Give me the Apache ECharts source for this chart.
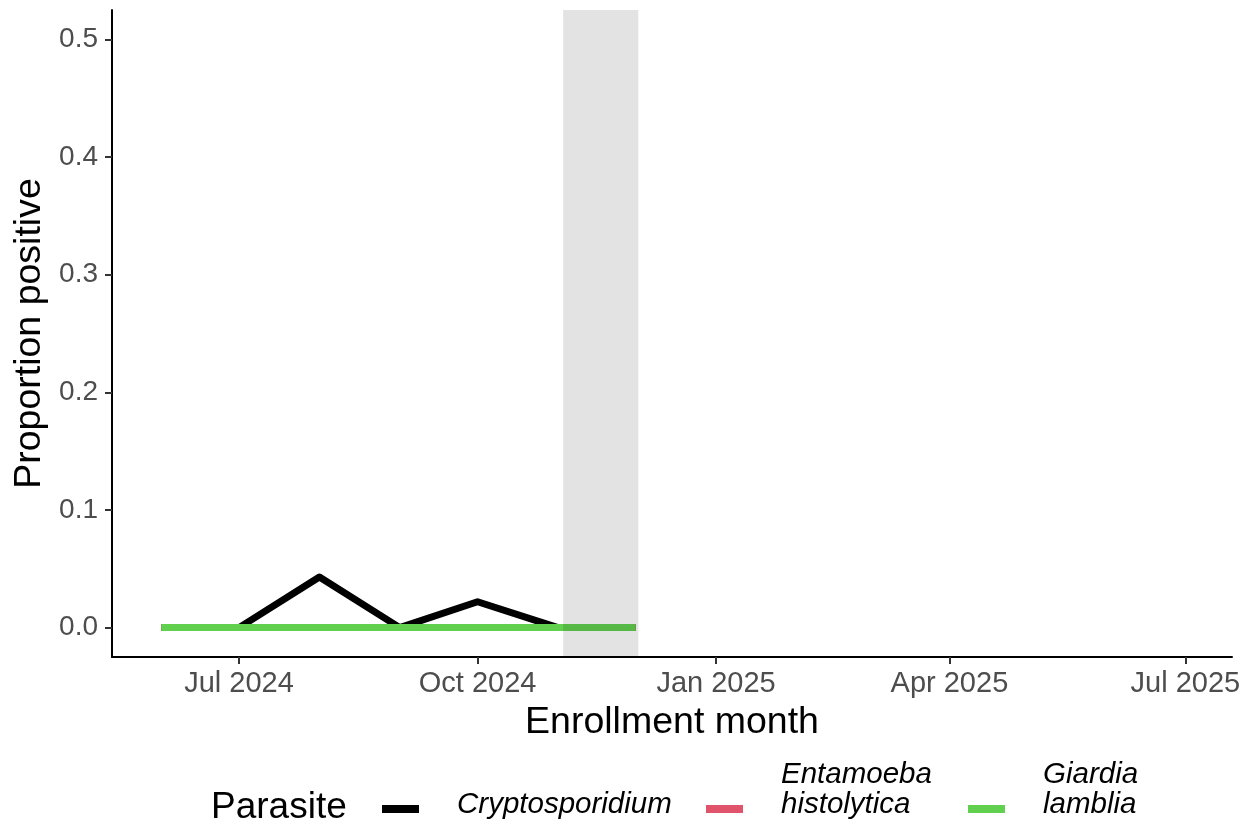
<!DOCTYPE html>
<html>
<head>
<meta charset="utf-8">
<script src="https://cdn.jsdelivr.net/npm/echarts@6/dist/echarts.min.js"></script>
<style>
html,body{margin:0;padding:0;background:#fff;}
#chart{width:1252px;height:827px;}
</style>
</head>
<body>
<div id="chart"></div>
<script>
// ---- data ----
const months = ['2024-06-01','2024-07-01','2024-08-01','2024-09-01','2024-10-01','2024-11-01','2024-12-01'];
const cryptosporidium = [0, 0, 0.043, 0, 0.022, 0, 0];
const entamoeba = [0, 0, 0, 0, 0, 0, 0];
const giardia = [0, 0, 0, 0, 0, 0, 0];
const xTickDates = ['2024-07-01','2024-10-01','2025-01-01','2025-04-01','2025-07-01'];
const yTicks = [0, 0.1, 0.2, 0.3, 0.4, 0.5];
const shadeRange = ['2024-11-03','2024-12-02'];
const xLimits = ['2024-05-13','2025-07-19'];
const yLimits = [-0.025, 0.525];
const seriesNames = ['Cryptosporidium', 'Entamoeba histolytica', 'Giardia lamblia'];
const seriesLabels = ['Cryptosporidium', 'Entamoeba\nhistolytica', 'Giardia\nlamblia'];
const seriesColors = ['#000000', '#DF536B', '#61D04F'];

const MON = ['Jan','Feb','Mar','Apr','May','Jun','Jul','Aug','Sep','Oct','Nov','Dec'];
function ts(s){ const p = s.split('-').map(Number); return Date.UTC(p[0], p[1]-1, p[2]); }
function fmt(v){ const d = new Date(v); return MON[d.getUTCMonth()] + ' ' + d.getUTCFullYear(); }

const FONT = '"Liberation Sans", Arial, Helvetica, sans-serif';
const allValues = [cryptosporidium, entamoeba, giardia];

const series = seriesNames.map((n, i) => ({
  name: n,
  type: 'line',
  data: months.map((m, j) => [ts(m), allValues[i][j]]),
  showSymbol: false,
  symbol: 'none',
  lineStyle: { color: seriesColors[i], width: 7, cap: 'butt', join: 'round' },
  itemStyle: { color: seriesColors[i] },
  z: 2 + i,
  silent: true,
  animation: false
}));
series.push({
  name: 'shade',
  type: 'line',
  data: [],
  z: 10,
  silent: true,
  markArea: {
    silent: true,
    z: 20,
    itemStyle: { color: 'rgba(0,0,0,0.11)' },
    data: [[{ xAxis: ts(shadeRange[0]) }, { xAxis: ts(shadeRange[1]) }]]
  }
});

function makeLegend(i, left, top, multi) {
  return {
    show: true,
    left: left,
    top: top,
    padding: 0,
    orient: 'horizontal',
    icon: 'rect',
    itemWidth: 37,
    itemHeight: 8,
    data: [{ name: seriesNames[i], icon: 'rect', itemStyle: { color: seriesColors[i] } }],
    selectedMode: false,
    formatter: function () {
      const lines = seriesLabels[i].split('\n').map(t => '{a|' + t + '}');
      return lines.join('\n') + '\n{s| }';
    },
    textStyle: {
      padding: [0, 0, 0, 33],
      rich: {
        a: { fontFamily: FONT, fontStyle: 'italic', fontSize: 29.5, lineHeight: 30, color: '#000' },
        s: { fontSize: 1, lineHeight: multi ? 38 : 8, height: multi ? 38 : 8 }
      }
    }
  };
}

const option = {
  backgroundColor: '#ffffff',
  animation: false,
  textStyle: { fontFamily: FONT },
  title: {
    text: 'Parasite',
    left: 211,
    top: 788,
    padding: 0,
    textStyle: { fontFamily: FONT, fontSize: 37, fontWeight: 'normal', color: '#000', lineHeight: 40 }
  },
  legend: [
    makeLegend(0, 382, 790, false),
    makeLegend(1, 706, 760, true),
    makeLegend(2, 968, 760, true)
  ],
  grid: { left: 112, right: 20, top: 10, bottom: 170, containLabel: false },
  xAxis: {
    type: 'value',
    min: ts(xLimits[0]),
    max: ts(xLimits[1]),
    name: 'Enrollment month',
    nameLocation: 'middle',
    nameGap: 47,
    nameTextStyle: { fontFamily: FONT, fontSize: 37.5, color: '#000', lineHeight: 38 },
    axisLine: { show: true, onZero: false, lineStyle: { color: '#000', width: 2 } },
    axisTick: { show: true, length: 7, lineStyle: { color: '#333', width: 2 }, customValues: xTickDates.map(ts) },
    axisLabel: {
      show: true, margin: 12, fontFamily: FONT, fontSize: 29, color: '#4D4D4D',
      customValues: xTickDates.map(ts),
      formatter: function (v) { return fmt(v); },
      hideOverlap: false
    },
    splitLine: { show: false },
    minorTick: { show: false }
  },
  yAxis: {
    type: 'value',
    min: yLimits[0],
    max: yLimits[1],
    name: 'Proportion positive',
    nameLocation: 'middle',
    nameRotate: 90,
    nameGap: 62,
    nameTextStyle: { fontFamily: FONT, fontSize: 37.5, color: '#000', lineHeight: 38 },
    axisLine: { show: true, onZero: false, lineStyle: { color: '#000', width: 2 } },
    axisTick: { show: true, length: 7, lineStyle: { color: '#333', width: 2 }, customValues: yTicks },
    axisLabel: {
      show: true, margin: 14, fontFamily: FONT, fontSize: 28, color: '#4D4D4D',
      customValues: yTicks,
      formatter: function (v) { return v.toFixed(1); }
    },
    splitLine: { show: false }
  },
  series: series
};

const chart = echarts.init(document.getElementById('chart'), null, { renderer: 'canvas' });
chart.setOption(option);
</script>
</body>
</html>
